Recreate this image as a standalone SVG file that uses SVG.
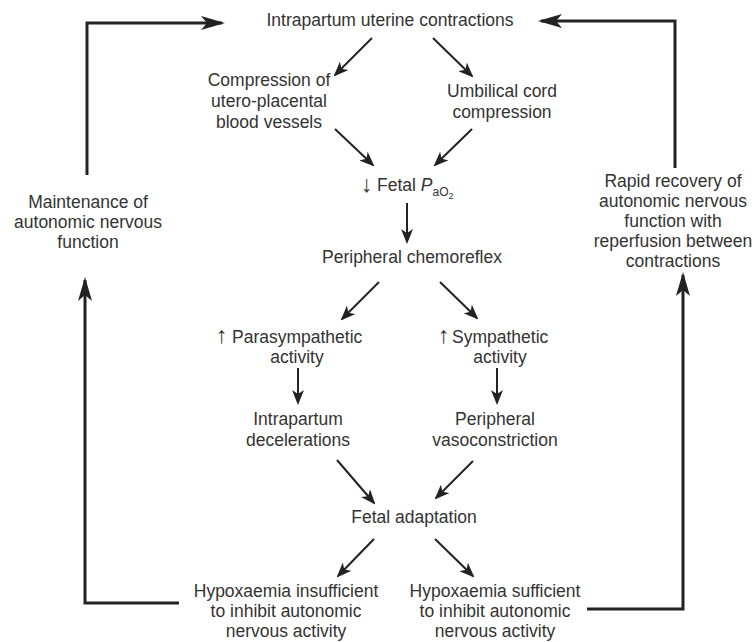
<svg xmlns="http://www.w3.org/2000/svg" width="755" height="642" viewBox="0 0 755 642">
<defs>
<style>
text{font-family:"Liberation Sans",Arial,"DejaVu Sans",sans-serif;font-size:17.5px;fill:#333;text-anchor:middle}
.st{text-anchor:start}
.arr{text-anchor:start;font-size:23px}
.a{fill:none;stroke:#222;stroke-width:2}
.L{fill:none;stroke:#222;stroke-width:3}
</style>
<marker id="ah" markerUnits="userSpaceOnUse" markerWidth="15" markerHeight="12" refX="13" refY="6" orient="auto">
<path d="M0,0 L15,6 L0,12 L4,6 Z" fill="#222"/>
</marker>
<marker id="AH" markerUnits="userSpaceOnUse" markerWidth="24" markerHeight="14" refX="21" refY="7" orient="auto">
<path d="M0,0 L24,7 L0,14 L6,7 Z" fill="#222"/>
</marker>
</defs>
<rect width="755" height="642" fill="#fff"/>

<g id="connectors">
<line class="a" x1="372" y1="38" x2="335" y2="75" marker-end="url(#ah)"/>
<line class="a" x1="433" y1="38" x2="472" y2="76" marker-end="url(#ah)"/>
<line class="a" x1="335" y1="129" x2="373" y2="165" marker-end="url(#ah)"/>
<line class="a" x1="472" y1="129" x2="435" y2="165" marker-end="url(#ah)"/>
<line class="a" x1="407" y1="203" x2="407" y2="242" marker-end="url(#ah)"/>
<line class="a" x1="379" y1="282" x2="342" y2="319" marker-end="url(#ah)"/>
<line class="a" x1="440" y1="282" x2="477" y2="318" marker-end="url(#ah)"/>
<line class="a" x1="298" y1="368" x2="298" y2="403" marker-end="url(#ah)"/>
<line class="a" x1="497" y1="368" x2="497" y2="403" marker-end="url(#ah)"/>
<line class="a" x1="337" y1="460" x2="374" y2="503" marker-end="url(#ah)"/>
<line class="a" x1="473" y1="461" x2="436" y2="498" marker-end="url(#ah)"/>
<line class="a" x1="374" y1="539" x2="338" y2="576" marker-end="url(#ah)"/>
<line class="a" x1="435" y1="539" x2="473" y2="576" marker-end="url(#ah)"/>
<path class="L" d="M87,175 V23 H222" marker-end="url(#AH)"/>
<path class="L" d="M675,168 V21 H541" marker-end="url(#AH)"/>
<path class="L" d="M179,603 H85 V280" marker-end="url(#AH)"/>
<path class="L" d="M587,609 H683 V275" marker-end="url(#AH)"/>
</g>

<g id="n-contractions"><text x="390" y="26">Intrapartum uterine contractions</text></g>
<g id="n-compression-utero"><text x="269" y="86">Compression of<tspan x="269" dy="21">utero-placental</tspan><tspan x="269" dy="21">blood vessels</tspan></text></g>
<g id="n-cord"><text x="502" y="97">Umbilical cord<tspan x="502" dy="21">compression</tspan></text></g>
<g id="n-pao2"><text class="arr" x="361" y="192">↓</text><text class="st" x="377" y="191">Fetal <tspan font-style="italic">P</tspan><tspan font-size="12" dy="5">aO</tspan><tspan font-size="9" dy="3">2</tspan></text></g>
<g id="n-chemoreflex"><text x="412" y="263">Peripheral chemoreflex</text></g>
<g id="n-parasympathetic"><text class="arr" x="216" y="343">↑</text><text class="st" x="232" y="343">Parasympathetic</text><text x="297" y="363">activity</text></g>
<g id="n-sympathetic"><text class="arr" x="438" y="343">↑</text><text class="st" x="452" y="343">Sympathetic</text><text x="500" y="363">activity</text></g>
<g id="n-decelerations"><text x="298" y="425">Intrapartum<tspan x="298" dy="21">decelerations</tspan></text></g>
<g id="n-vasoconstriction"><text x="495" y="425">Peripheral<tspan x="495" dy="21">vasoconstriction</tspan></text></g>
<g id="n-adaptation"><text x="414" y="523">Fetal adaptation</text></g>
<g id="n-insufficient"><text x="286" y="597">Hypoxaemia insufficient<tspan x="286" dy="20">to inhibit autonomic</tspan><tspan x="286" dy="20">nervous activity</tspan></text></g>
<g id="n-sufficient"><text x="495" y="597">Hypoxaemia sufficient<tspan x="495" dy="20">to inhibit autonomic</tspan><tspan x="495" dy="20">nervous activity</tspan></text></g>
<g id="n-maintenance"><text x="88" y="208">Maintenance of<tspan x="88" dy="20">autonomic nervous</tspan><tspan x="88" dy="20">function</tspan></text></g>
<g id="n-recovery"><text x="673" y="187">Rapid recovery of<tspan x="673" dy="20">autonomic nervous</tspan><tspan x="673" dy="20">function with</tspan><tspan x="673" dy="20">reperfusion between</tspan><tspan x="673" dy="20">contractions</tspan></text></g>
</svg>
